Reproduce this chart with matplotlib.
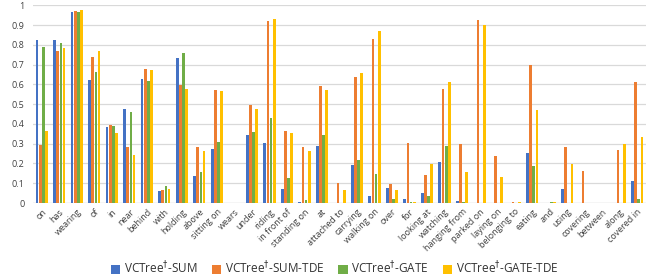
import numpy as np
import matplotlib
matplotlib.use('Agg')
import matplotlib.pyplot as plt

# categorias (predicados)
categorias = ['on', 'has', 'wearing', 'of', 'in', 'near', 'behind', 'with', 'holding',
              'above', 'sitting on', 'wears', 'under', 'riding', 'in front of',
              'standing on', 'at', 'attached to', 'carrying', 'walking on', 'over',
              'for', 'looking at', 'watching', 'hanging from', 'parked on', 'laying on',
              'belonging to', 'eating', 'and', 'using', 'covering', 'between', 'along',
              'covered in']

sum_vals = [0.824, 0.824, 0.966, 0.622, 0.385, 0.476, 0.628, 0.061, 0.731,
            0.135, 0.272, 0.0, 0.343, 0.306, 0.069,
            0.003, 0.287, 0.0, 0.193, 0.035, 0.074,
            0.019, 0.049, 0.206, 0.008, 0.0, 0.0,
            0.0, 0.252, 0.0, 0.073, 0.0, 0.0, 0.0,
            0.113]
sum_tde = [0.295, 0.769, 0.973, 0.736, 0.394, 0.284, 0.676, 0.064, 0.598,
           0.282, 0.574, 0.0, 0.495, 0.921, 0.363,
           0.282, 0.591, 0.103, 0.639, 0.831, 0.096,
           0.306, 0.140, 0.576, 0.296, 0.926, 0.236,
           0.003, 0.698, 0.0, 0.284, 0.164, 0.0, 0.267,
           0.610]
gate_vals = [0.790, 0.811, 0.966, 0.662, 0.389, 0.459, 0.618, 0.084, 0.760,
             0.155, 0.311, 0.0, 0.360, 0.429, 0.125,
             0.014, 0.343, 0.0, 0.220, 0.145, 0.019,
             0.005, 0.037, 0.287, 0.007, 0.0, 0.0,
             0.0, 0.186, 0.003, 0.0, 0.0, 0.0, 0.0,
             0.020]
gate_tde = [0.363, 0.782, 0.976, 0.769, 0.356, 0.242, 0.672, 0.069, 0.579,
            0.265, 0.566, 0.0, 0.475, 0.931, 0.355,
            0.262, 0.571, 0.066, 0.659, 0.870, 0.064,
            0.005, 0.199, 0.613, 0.159, 0.900, 0.130,
            0.003, 0.468, 0.003, 0.199, 0.0, 0.0, 0.296,
            0.334]

series = [sum_vals, sum_tde, gate_vals, gate_tde]
etiquetas = [r'VCTree$^{\dagger}$-SUM', r'VCTree$^{\dagger}$-SUM-TDE',
             r'VCTree$^{\dagger}$-GATE', r'VCTree$^{\dagger}$-GATE-TDE']
colores = ['#4472C4', '#ED7D31', '#70AD47', '#FFC000']

plt.rcParams['font.family'] = ['Open Sans', 'DejaVu Sans']
plt.rcParams['mathtext.fontset'] = 'dejavusans'

fig = plt.figure(figsize=(6.5, 2.79), dpi=100)
ax = fig.add_axes([0.0508, 0.2724, 0.943, 0.7086])

x = np.arange(len(categorias))
paso = 0.18
ancho = 0.155
for i, (vals, col, lab) in enumerate(zip(series, colores, etiquetas)):
    ax.bar(x + (i - 1.5) * paso, vals, width=ancho, color=col, label=lab, zorder=3)

ax.set_xlim(-0.5, len(categorias) - 0.5)
ax.set_ylim(0, 1)
ax.set_yticks(np.arange(0, 1.01, 0.1))
ax.set_yticklabels(['0'] + [f'{v:.1f}' for v in np.arange(0.1, 0.95, 0.1)] + ['1'])
ax.set_xticks(x)
ax.set_xticklabels(categorias, rotation=45, ha='right', rotation_mode='anchor')
ax.tick_params(axis='both', length=0, labelsize=6.5, colors='#404040')
ax.tick_params(axis='y', pad=6)
ax.tick_params(axis='x', pad=3)
ax.grid(axis='y', color='#D9D9D9', linewidth=0.9, zorder=0)
for s in ax.spines.values():
    s.set_visible(False)
ax.axhline(0, color='#D9D9D9', linewidth=0.9, zorder=1)

fig.legend(loc='center', bbox_to_anchor=(0.515, 0.04), ncol=4, frameon=False,
           fontsize=8.5, handlelength=0.8, handleheight=0.8, handletextpad=0.3,
           columnspacing=1.2, labelcolor='#333333')

fig.savefig('out.png', dpi=100)
